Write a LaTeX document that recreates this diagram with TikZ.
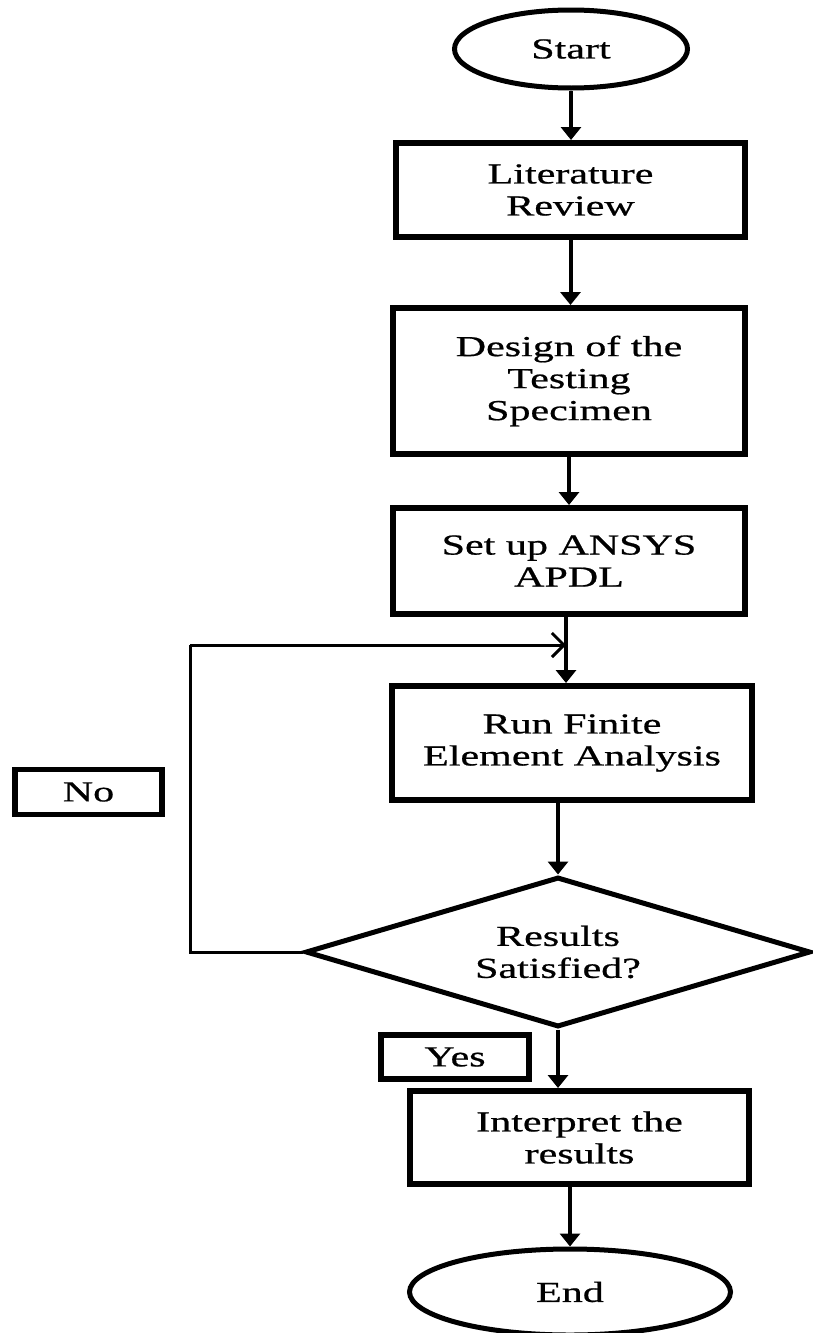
\documentclass[tikz,border=0pt]{standalone}
\usepackage{fontspec}
\setmainfont[FakeStretch=1.45,FakeBold=0.7]{Liberation Serif}
\usetikzlibrary{shapes.geometric,arrows.meta}
\begin{document}
\begin{tikzpicture}[x=1pt,y=-1pt,
  txt/.style={font=\fontsize{29}{32}\selectfont, align=center, text=black},
  box/.style={txt, draw, rectangle, line width=6pt, inner sep=0pt},
  lbl/.style={txt, draw, rectangle, line width=5.5pt, inner sep=0pt},
  oval/.style={txt, draw, ellipse, line width=5pt, inner sep=0pt},
  decision/.style={txt, draw, diamond, shape aspect=3.37, line width=5pt, inner sep=0pt},
  arr/.style={line width=4pt, -{Triangle[width=20pt,length=13pt]}},
  loopline/.style={line width=3pt},
  looparr/.style={line width=3pt, -{Straight Barb[length=12pt,width=24pt]}}
]
\useasboundingbox (0,0) rectangle (812,1333);
\fill[white] (0,0) rectangle (812,1333);

\node[oval, minimum width=233pt, minimum height=78pt] (start) at (571,49) {Start};
\node[box, minimum width=349pt, minimum height=94pt] (lit) at (570.5,190) {Literature\\Review};
\node[box, minimum width=352pt, minimum height=146pt] (design) at (569,381) {Design of the\\Testing\\Specimen};
\node[box, minimum width=352pt, minimum height=106pt] (setup) at (569,561) {Set up ANSYS\\APDL};
\node[box, minimum width=360pt, minimum height=114pt] (fea) at (572,743) {Run Finite\\Element Analysis};
\node[decision, minimum width=505pt, minimum height=150pt] (dec) at (558,952) {Results\\Satisfied?};
\node[lbl, minimum width=147pt, minimum height=45pt] (no) at (88.5,792) {No};
\node[lbl, minimum width=148pt, minimum height=44pt] (yes) at (455,1057) {Yes};
\node[box, minimum width=339pt, minimum height=93pt] (interp) at (579.5,1137.5) {Interpret the\\results};
\node[oval, minimum width=321pt, minimum height=86pt] (end) at (570,1292) {End};

\coordinate (join) at (566,645);
\coordinate (corner) at (190,645);

\draw[arr] (start.south) -- (start.south |- lit.north);
\draw[arr] (lit.south) -- (lit.south |- design.north);
\draw[arr] (design.south) -- (design.south |- setup.north);
\draw[arr] (join |- setup.south) -- (join |- fea.north);
\draw[arr] (fea.south -| dec.north) -- (dec.north);
\draw[arr] (dec.south) -- (dec.south |- interp.north);
\draw[arr] (end.north |- interp.south) -- (end.north);

\draw[loopline] (dec.west) -| (corner);
\draw[looparr] (corner) -- (join);
\end{tikzpicture}
\end{document}
